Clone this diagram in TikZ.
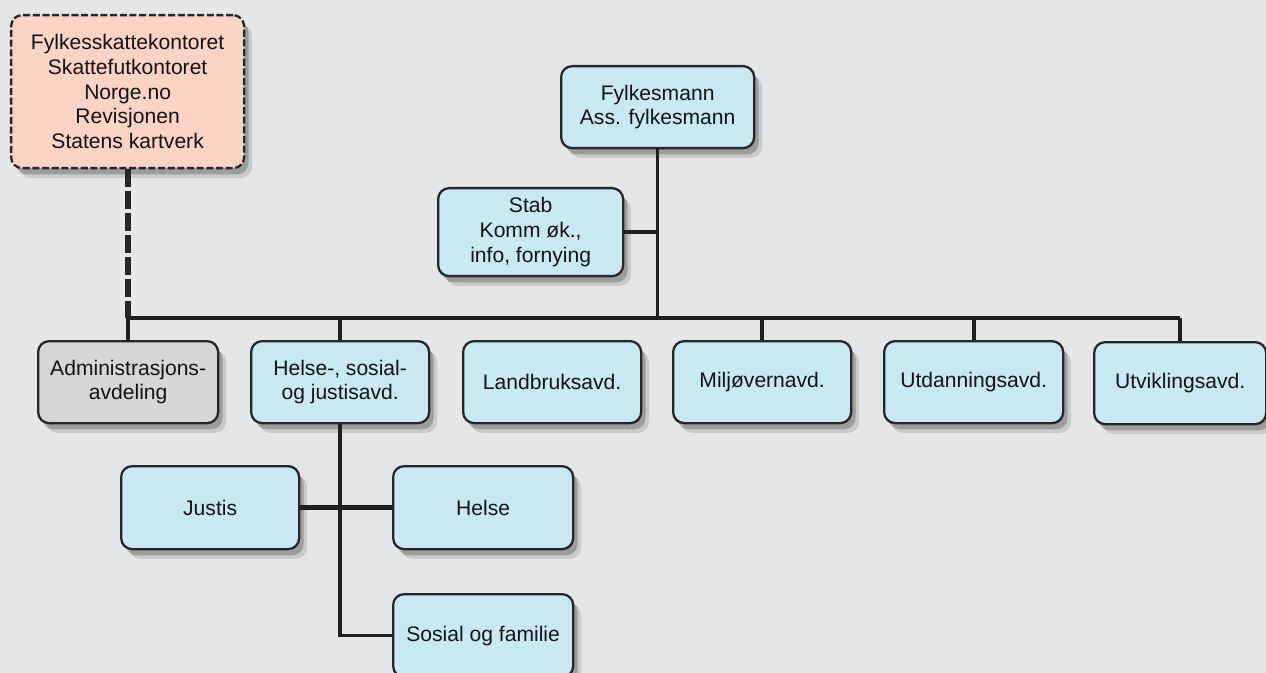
\documentclass[tikz,border=0pt]{standalone}
\usepackage{fontspec}
\setmainfont{Liberation Sans}
\usetikzlibrary{shadows}
\definecolor{bggray}{RGB}{229,230,231}
\definecolor{boxblue}{RGB}{200,232,243}
\definecolor{boxpeach}{RGB}{249,211,195}
\definecolor{boxgray}{RGB}{213,214,216}
\definecolor{edgedark}{RGB}{38,38,40}
\tikzset{
  unitbox/.style={draw=edgedark, line width=1.3pt, fill=boxblue,
    rounded corners=0.22cm, anchor=north west, align=center, inner sep=0pt,
    minimum width=3.56cm, minimum height=1.64cm, text=black!92,
    font=\fontsize{12}{14}\selectfont,
    drop shadow={fill=black, opacity=0.12, shadow xshift=4.5pt, shadow yshift=-5.5pt},
    drop shadow={fill=black, opacity=0.22, shadow xshift=2.5pt, shadow yshift=-3.5pt}},
  graybox/.style={unitbox, fill=boxgray},
  peachbox/.style={unitbox, fill=boxpeach, dash pattern=on 4pt off 1.5pt},
  orgline/.style={draw=black!88, line width=2.1pt},
  dashline/.style={draw=edgedark, line width=0.12cm, dash pattern=on 0.36cm off 0.08cm}
}
\begin{document}
\begin{tikzpicture}
\useasboundingbox (0, 0) rectangle (25.32, -13.46);
\fill [bggray] (0, 0) rectangle (25.32, -13.46);
\clip (0, 0) rectangle (25.32, -13.46);

% top level
\node [peachbox, minimum width=4.66cm, minimum height=3.06cm] (tax) at (0.2, -0.28)
      {Fylkesskattekontoret\\Skattefutkontoret\\Norge.no\\Revisjonen\\Statens kartverk};
\node [unitbox, minimum width=3.86cm] (fm) at (11.2, -1.3) {Fylkesmann\\Ass. fylkesmann};
\node [unitbox, minimum width=3.7cm, minimum height=1.76cm] (stab) at (8.74, -3.74)
      {Stab\\Komm øk.,\\info, fornying};

% departments
\node [graybox, minimum width=3.6cm] (admin) at (0.74, -6.8) {Administrasjons-\\avdeling};
\node [unitbox] (hsj) at (5.0, -6.8) {Helse-, sosial-\\og justisavd.};
\node [unitbox] (land) at (9.24, -6.8) {Landbruksavd.};
\node [unitbox] (milj) at (13.44, -6.8) {Miljøvernavd.};
\node [unitbox, minimum width=3.58cm] (utd) at (17.66, -6.8) {Utdanningsavd.};
\node [unitbox, minimum width=3.44cm] (utv) at (21.86, -6.82) {Utviklingsavd.};

% sections under helse, sosial og justis
\node [unitbox, minimum height=1.66cm] (justis) at (2.4, -9.3) {Justis};
\node [unitbox, minimum width=3.6cm, minimum height=1.66cm] (helse) at (7.84, -9.3) {Helse};
\node [unitbox, minimum width=3.6cm, minimum height=1.66cm] (sosial) at (7.84, -11.86) {Sosial og familie};

\coordinate (bus) at (0, -6.36);

\draw [dashline] (tax.south) -- (tax.south |- bus);
\draw [orgline] (fm.south) -- (fm.south |- bus)
      (stab.east) -- (stab.east -| fm.south)
      (admin.north |- bus) -- (utv.north |- bus);
\draw [orgline] (admin.north) -- (admin.north |- bus)
      (hsj.north) -- (hsj.north |- bus)
      (milj.north) -- (milj.north |- bus)
      (utd.north) -- (utd.north |- bus)
      (utv.north) -- (utv.north |- bus);
\draw [orgline] (hsj.south) |- (sosial.west);
\draw [orgline, line width=2.8pt] (justis.east) -- (helse.west);
\end{tikzpicture}
\end{document}
